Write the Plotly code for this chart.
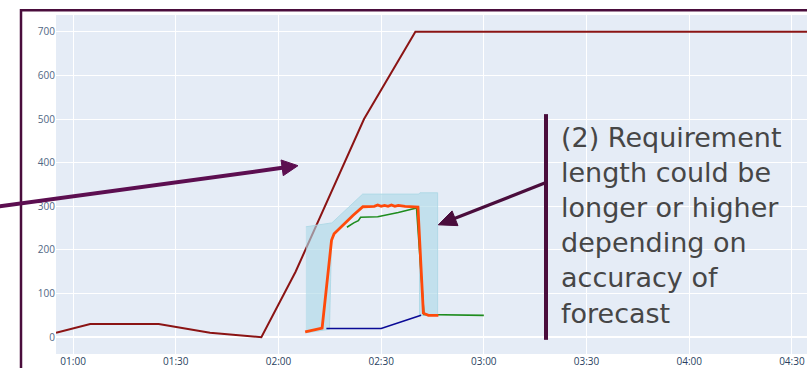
import math
import plotly.graph_objects as go

DAY = "2024-01-01 "

# ---- data ----
req_times = ["00:55:00", "01:05:00", "01:25:00", "01:40:00", "01:55:00",
             "02:05:00", "02:25:00", "02:40:00", "05:00:00"]
req_values = [10, 30, 30, 10, 0, 150, 500, 700, 700]

band_upper_times = ["02:08:00", "02:15:36", "02:24:36", "02:41:00", "02:41:20", "02:46:30"]
band_upper_values = [253, 262, 328, 328, 331, 331]
band_lower_times = ["02:46:30", "02:41:12", "02:41:12", "02:37:00", "02:30:00",
                    "02:24:40", "02:21:45", "02:16:15", "02:15:30", "02:14:54", "02:08:00"]
band_lower_values = [50, 50, 298, 300, 300, 299, 279, 237, 222, 18, 10]

forecast_times = ["02:07:48", "02:12:45", "02:15:30", "02:16:15", "02:21:45", "02:24:40",
                  "02:28:00", "02:29:00", "02:30:00", "02:31:00", "02:32:00", "02:33:00",
                  "02:34:00", "02:35:00", "02:37:00", "02:40:45", "02:42:20", "02:43:48",
                  "02:46:43"]
forecast_values = [12, 21, 222, 237, 279, 299, 300, 303, 300, 302, 300, 303,
                   300, 302, 300, 298, 55, 50, 50]

actual_times = ["02:20:00", "02:21:00", "02:22:00", "02:23:20", "02:24:00", "02:29:00",
                "02:33:00", "02:35:00", "02:40:20", "02:42:30", "03:00:00"]
actual_values = [252, 258, 262, 267, 275, 276, 282, 286, 296, 52, 50]

base_times = ["02:14:00", "02:30:00", "02:41:40"]
base_values = [20, 20, 50]

x_range = ["00:55:00", "04:34:25"]
y_range = [-38.6, 738.6]

note_text = ("(2) Requirement<br>length could be<br>longer or higher<br>"
             "depending on<br>accuracy of<br>forecast")

def t(lst):
    return [DAY + s for s in lst]

# ---- layout geometry ----
W, H = 807, 368
ML, MR, MT, MB = 56, 0, 15, 11
PW, PH = W - ML - MR, H - MT - MB

def P(x, y):
    return (x - ML) / PW, (H - MB - y) / PH

fig = go.Figure()

fig.add_trace(go.Scatter(x=t(req_times), y=req_values, mode="lines",
                         line=dict(color="#8B1414", width=2)))
fig.add_trace(go.Scatter(x=t(band_upper_times + band_lower_times),
                         y=band_upper_values + band_lower_values,
                         mode="lines", fill="toself",
                         fillcolor="rgba(173,216,230,0.62)",
                         line=dict(color="rgba(173,216,230,0.9)", width=1)))
fig.add_trace(go.Scatter(x=t(base_times), y=base_values, mode="lines",
                         line=dict(color="#0A0A96", width=1.6)))
fig.add_trace(go.Scatter(x=t(actual_times), y=actual_values, mode="lines",
                         line=dict(color="#1E8C1E", width=1.6)))
fig.add_trace(go.Scatter(x=t(forecast_times), y=forecast_values, mode="lines",
                         line=dict(color="#FF4A0A", width=2.8)))

shapes = []
ARROW1 = "#5C0E50"
DARK = "#4A0D3C"

def line_shape(p0, p1, color, width):
    x0, y0 = P(*p0)
    x1, y1 = P(*p1)
    return dict(type="line", xref="paper", yref="paper", x0=x0, y0=y0, x1=x1, y1=y1,
                line=dict(color=color, width=width), layer="above")

def arrow(tail, tip, color, width, hl, hw):
    dx, dy = tip[0] - tail[0], tip[1] - tail[1]
    L = math.hypot(dx, dy)
    ux, uy = dx / L, dy / L
    bx, by = tip[0] - hl * ux, tip[1] - hl * uy
    nx, ny = -uy, ux
    c1 = (bx + hw * nx, by + hw * ny)
    c2 = (bx - hw * nx, by - hw * ny)
    out = [line_shape(tail, (bx + 2 * ux, by + 2 * uy), color, width)]
    pts = [P(*tip), P(*c1), P(*c2)]
    path = "M {} {} L {} {} L {} {} Z".format(*[v for p in pts for v in p])
    out.append(dict(type="path", xref="paper", yref="paper", path=path,
                    fillcolor=color, line=dict(color=color, width=1), layer="above"))
    return out

# border of slide panel (top and left)
bx0, by0 = P(21, 10.3)
bxl, byb = P(21, 400)
bxr, _ = P(830, 10.3)
shapes.append(dict(type="path", xref="paper", yref="paper",
                   path="M {} {} L {} {} L {} {}".format(bxl, byb, bx0, by0, bxr, by0),
                   line=dict(color=DARK, width=2.5), layer="above"))
shapes += arrow((-10, 209.4), (298, 167), ARROW1, 4, 16, 8)
shapes += arrow((546, 184), (438.3, 226.7), DARK, 3.2, 18, 8)
shapes.append(line_shape((546, 115), (546, 342.7), DARK, 4))

tx, ty = P(559, 121)
fig.update_layout(
    width=W, height=H, autosize=False,
    margin=dict(l=ML, r=MR, t=MT, b=MB, pad=0),
    paper_bgcolor="white", plot_bgcolor="#E5ECF6",
    showlegend=False,
    shapes=shapes,
    annotations=[dict(text=note_text, xref="paper", yref="paper", x=tx, y=ty,
                      xanchor="left", yanchor="top", align="left", showarrow=False,
                      font=dict(family="DejaVu Sans", size=27, color="#464646"))],
    xaxis=dict(range=t(x_range), type="date", tickformat="%H:%M",
               dtick=1800000, tick0=DAY + "01:00:00", gridcolor="white",
               tickfont=dict(size=10, color="#2a3f5f"), showline=False, zeroline=False),
    yaxis=dict(range=y_range, dtick=100, gridcolor="white", zerolinecolor="white",
               zerolinewidth=1.5, tickfont=dict(size=10, color="#506784"),
               showline=False),
)

fig.write_html("out.html", config={"displayModeBar": False},
               post_script="document.body.style.margin='0';document.body.style.overflow='hidden';")
